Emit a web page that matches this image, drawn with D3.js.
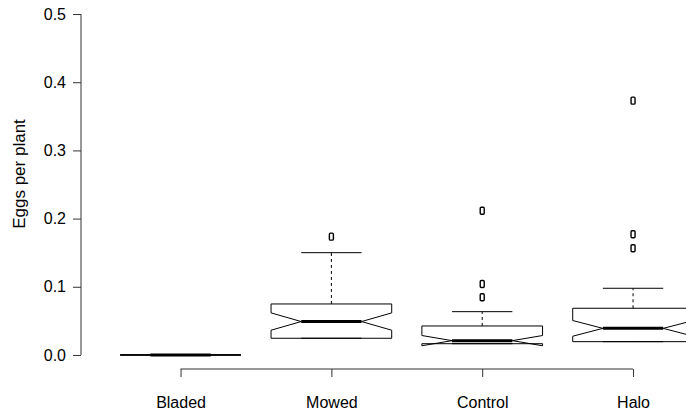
<!DOCTYPE html>
<html>
<head>
<meta charset="utf-8">
<script src="https://cdn.jsdelivr.net/npm/d3@7"></script>
<style>
  body { margin: 0; background: #fff; }
  svg { display: block; }
  text { font-family: "Liberation Sans", Arial, sans-serif; fill: #000; }
</style>
</head>
<body>
<div id="chart"></div>
<script>
// box summaries
var groups = ["Bladed", "Mowed", "Control", "Halo"];
var lowerWhisker = [0, 0.0245, 0.0165, 0.0195];
var q1 = [0, 0.0245, 0.0165, 0.0195];
var medians = [0, 0.049, 0.021, 0.039];
var q3 = [0, 0.0748, 0.0425, 0.0685];
var upperWhisker = [0, 0.150, 0.0635, 0.0978];
var notchHalf = [0, 0.0127, 0.0075, 0.0115];
var outliers = [[], [0.1735], [0.0846, 0.104, 0.2116], [0.1565, 0.177, 0.373]];
var yTicks = [0, 0.1, 0.2, 0.3, 0.4, 0.5];

function drawBoxplot()
{
	var dim = { width: 686, height: 412 };

	var svg = d3.select("#chart")
		.append("svg")
		.attr("width", dim.width)
		.attr("height", dim.height);

	// R style: x from 0.5..4.5 plus 4%, y from 0..0.5 plus 4%
	var x = d3.scaleLinear().domain([0.34, 4.66]).range([81, 732.6]);
	var y = d3.scaleLinear().domain([-0.02, 0.52]).range([368.6, 0.4]);
	var unit = x(2) - x(1);
	var hw = 0.4 * unit;   // half box width
	var sw = 0.2 * unit;   // half staple / median width

	var data = groups.map((g, i) => ({
		name: g, pos: i + 1, lo: lowerWhisker[i], q1: q1[i], med: medians[i],
		q3: q3[i], hi: upperWhisker[i], nh: notchHalf[i], out: outliers[i]
	}));

	var plot = svg.append("g").attr("clip-path", "url(#clip)");
	svg.append("clipPath").attr("id", "clip")
		.append("rect").attr("x", 0).attr("y", 0).attr("width", dim.width).attr("height", dim.height);

	var box = plot.selectAll("g.box")
		.data(data)
		.join("g")
		.attr("class", "box");

	// whiskers (dashed)
	box.append("line")
		.attr("x1", d => x(d.pos)).attr("x2", d => x(d.pos))
		.attr("y1", d => y(d.q3)).attr("y2", d => y(d.hi))
		.attr("stroke", "#000").attr("stroke-dasharray", "3,3");
	box.append("line")
		.attr("x1", d => x(d.pos)).attr("x2", d => x(d.pos))
		.attr("y1", d => y(d.q1)).attr("y2", d => y(d.lo))
		.attr("stroke", "#000").attr("stroke-dasharray", "3,3");

	// staples
	box.selectAll("line.staple")
		.data(d => [{ c: d.pos, v: d.hi }, { c: d.pos, v: d.lo }])
		.join("line")
		.attr("class", "staple")
		.attr("x1", d => x(d.c) - sw).attr("x2", d => x(d.c) + sw)
		.attr("y1", d => y(d.v)).attr("y2", d => y(d.v))
		.attr("stroke", "#000");

	// notched box
	box.append("path")
		.attr("d", d => {
			var c = x(d.pos);
			var pts = [
				[c - hw, y(d.q1)], [c - hw, y(d.med - d.nh)], [c - sw, y(d.med)],
				[c - hw, y(d.med + d.nh)], [c - hw, y(d.q3)], [c + hw, y(d.q3)],
				[c + hw, y(d.med + d.nh)], [c + sw, y(d.med)], [c + hw, y(d.med - d.nh)],
				[c + hw, y(d.q1)]
			];
			return d3.line()(pts) + "Z";
		})
		.attr("fill", "none")
		.attr("stroke", "#000")
		.attr("stroke-width", 1);

	// medians
	box.append("line")
		.attr("x1", d => x(d.pos) - sw).attr("x2", d => x(d.pos) + sw)
		.attr("y1", d => y(d.med)).attr("y2", d => y(d.med))
		.attr("stroke", "#000").attr("stroke-width", 3);

	// outliers
	box.selectAll("rect.out")
		.data(d => d.out.map(v => ({ c: d.pos, v: v })))
		.join("rect")
		.attr("class", "out")
		.attr("x", d => x(d.c) - 2)
		.attr("y", d => y(d.v) - 3.5)
		.attr("width", 4)
		.attr("height", 7)
		.attr("rx", 1)
		.attr("fill", "none")
		.attr("stroke", "#000")
		.attr("stroke-width", 1.4);

	// y axis
	var yAxis = svg.append("g")
		.attr("transform", "translate(81,0)")
		.call(d3.axisLeft(y).tickValues(yTicks).tickFormat(d3.format(".1f")).tickSize(8).tickPadding(7).tickSizeOuter(0));
	yAxis.select(".domain").attr("d", `M0,${y(0)}V${y(0.5)}`);

	// x axis
	var xAxis = svg.append("g")
		.attr("transform", "translate(0,369)")
		.call(d3.axisBottom(x).tickValues([1, 2, 3, 4]).tickFormat((d, i) => groups[i]).tickSize(8).tickPadding(20).tickSizeOuter(0));
	xAxis.select(".domain").attr("d", `M${x(1)},0H${x(4)}`);

	svg.selectAll(".tick text").style("font-size", "16px").style("font-family", "'Liberation Sans', Arial, sans-serif");
	svg.selectAll(".domain, .tick line").attr("stroke", "#333");

	svg.append("text")
		.attr("transform", "translate(25,174) rotate(-90)")
		.attr("text-anchor", "middle")
		.style("font-size", "17px")
		.text("Eggs per plant");
}

drawBoxplot();
</script>
</body>
</html>
